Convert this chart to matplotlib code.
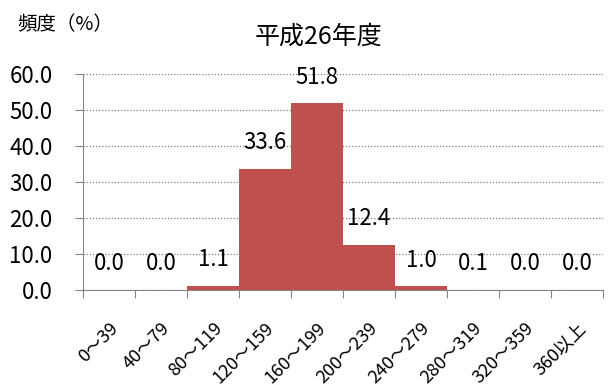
import matplotlib
matplotlib.use("Agg")
import matplotlib.pyplot as plt
import matplotlib.transforms as mtransforms
import numpy as np

plt.rcParams['font.family'] = ['Noto Sans CJK JP', 'DejaVu Sans']

categories = ['0～39', '40～79', '80～119', '120～159', '160～199',
              '200～239', '240～279', '280～319', '320～359', '360以上']
values = [0.0, 0.0, 1.1, 33.6, 51.8, 12.4, 1.0, 0.1, 0.0, 0.0]
yticks = [0, 10, 20, 30, 40, 50, 60]

bar_color = '#C0504D'
axis_color = '#868686'

fig = plt.figure(figsize=(6.11, 3.85), dpi=100)
ax = fig.add_axes([0.136, 0.247, 0.851, 0.561])

x = np.arange(len(categories))
ax.bar(x, values, width=1.0, color=bar_color, zorder=2)

# value labels above each bar
for xi, v in zip(x, values):
    ax.text(xi, v + 7.3, f'{v:.1f}', ha='center', va='center', fontsize=16, zorder=3)

ax.set_xlim(-0.5, len(categories) - 0.5)
ax.set_ylim(0, 60)
ax.set_yticks(yticks)
ax.set_yticklabels([f'{t:.1f}' for t in yticks], fontsize=16)
ax.yaxis.grid(True, linestyle=(0, (1, 1.5)), color='#7f7f7f', linewidth=0.9, zorder=0)

# category ticks sit on the boundaries, labels at the centres
ax.set_xticks(np.arange(len(categories) + 1) - 0.5)
ax.set_xticklabels([])
ax.set_xticks(x, minor=True)
ax.set_xticklabels(categories, minor=True, rotation=45, ha='right', va='top',
                   rotation_mode='anchor', fontsize=13)
shift = mtransforms.ScaledTranslation(-3 / 100, 0, fig.dpi_scale_trans)
for lbl in ax.get_xticklabels(minor=True):
    lbl.set_transform(lbl.get_transform() + shift)
ax.tick_params(axis='x', which='minor', length=0, pad=21)
ax.tick_params(axis='x', which='major', length=6, color=axis_color, direction='out')
ax.tick_params(axis='y', length=6, color=axis_color, direction='out', pad=16)

for s in ['top', 'right']:
    ax.spines[s].set_visible(False)
for s in ['left', 'bottom']:
    ax.spines[s].set_color(axis_color)

fig.text(0.522, 0.904, '平成26年度', ha='center', va='center', fontsize=18)
fig.text(0.029, 0.935, '頻度（%）', ha='left', va='center', fontsize=14)

fig.savefig('out.png', dpi=100)
